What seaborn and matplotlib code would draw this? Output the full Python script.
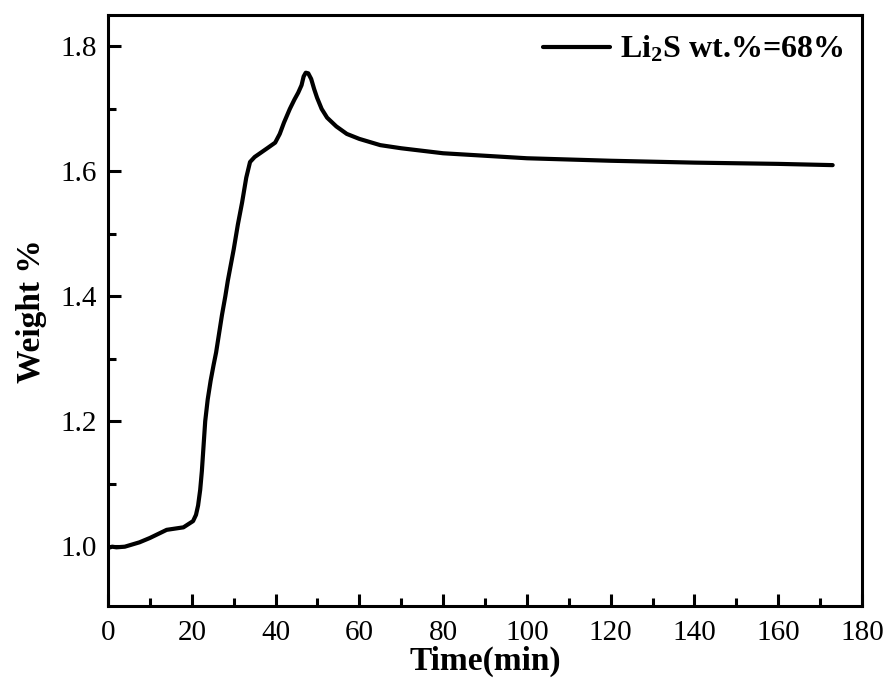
import numpy as np
import pandas as pd
import seaborn as sns
import matplotlib
matplotlib.use("Agg")
import matplotlib.pyplot as plt
from matplotlib.ticker import MultipleLocator

# values
time_min = [0, 1, 2, 4, 7.5, 10, 14, 18, 20.3, 21, 21.5, 22, 22.4, 22.8,
            23.2, 23.8, 24.5, 25.2, 25.8, 26.5, 27.2, 28, 28.6, 29.3, 30,
            31, 32, 33, 33.9, 35, 36.5, 38, 39.9, 41, 42, 43.4, 44.5, 45.4,
            46.2, 46.7, 47.2, 47.8, 48.5, 49.2, 49.9, 51, 52.3, 54.5, 57,
            60, 65, 70, 80, 90, 100, 120, 140, 160, 173]
weight_pct = [0.997, 0.999, 0.998, 0.999, 1.006, 1.013, 1.026, 1.03, 1.04,
              1.05, 1.065, 1.09, 1.12, 1.16, 1.20, 1.235, 1.265, 1.29, 1.31,
              1.34, 1.37, 1.40, 1.425, 1.45, 1.475, 1.515, 1.55, 1.59, 1.615,
              1.623, 1.63, 1.637, 1.646, 1.66, 1.678, 1.70, 1.715, 1.726,
              1.738, 1.752, 1.758, 1.757, 1.748, 1.732, 1.718, 1.70, 1.686,
              1.672, 1.66, 1.652, 1.642, 1.637, 1.629, 1.625, 1.621, 1.617,
              1.614, 1.612, 1.61]

df = pd.DataFrame({"Time": time_min, "Weight": weight_pct})

sns.set_style("ticks")
plt.rcParams["font.family"] = ["Liberation Serif", "DejaVu Serif"]
plt.rcParams["mathtext.fontset"] = "custom"
plt.rcParams["mathtext.rm"] = "Liberation Serif:bold"
plt.rcParams["mathtext.it"] = "Liberation Serif:bold"
plt.rcParams["mathtext.bf"] = "Liberation Serif:bold"
plt.rcParams["text.color"] = "black"
plt.rcParams["axes.labelcolor"] = "black"
plt.rcParams["xtick.color"] = "black"
plt.rcParams["ytick.color"] = "black"
plt.rcParams["axes.edgecolor"] = "black"

fig = plt.figure(figsize=(8.87, 6.93), dpi=100)
ax = fig.add_axes([0.1218, 0.1255, 0.85, 0.8525])

sns.lineplot(data=df, x="Time", y="Weight", ax=ax, color="black",
             linewidth=3, label="Li$_2$S wt.%=68%",
             solid_joinstyle="round", solid_capstyle="round")

ax.set_xlim(0, 180)
ax.set_ylim(0.904, 1.85)
ax.xaxis.set_major_locator(MultipleLocator(20))
ax.xaxis.set_minor_locator(MultipleLocator(10))
ax.yaxis.set_major_locator(MultipleLocator(0.2))
ax.yaxis.set_minor_locator(MultipleLocator(0.1))
ax.tick_params(which="both", direction="in", width=2.2, labelsize=21,
               top=False, right=False, colors="black")
ax.tick_params(which="major", length=9)
ax.tick_params(axis="x", which="major", pad=10)
ax.tick_params(axis="y", which="major", pad=8)
ax.tick_params(which="minor", length=5.5)
for s in ax.spines.values():
    s.set_linewidth(2.2)
    s.set_color("black")
    s.set_visible(True)

ax.set_xlabel("Time(min)", fontsize=24, fontweight="bold", labelpad=0)
ax.set_ylabel("Weight %", fontsize=24, fontweight="bold", labelpad=10)

leg = ax.legend(loc="upper right", frameon=False, fontsize=23,
                handlelength=2.1, handletextpad=0.3, borderaxespad=0.2)
for t in leg.get_texts():
    t.set_fontweight("bold")

fig.savefig("out.png", dpi=100)
